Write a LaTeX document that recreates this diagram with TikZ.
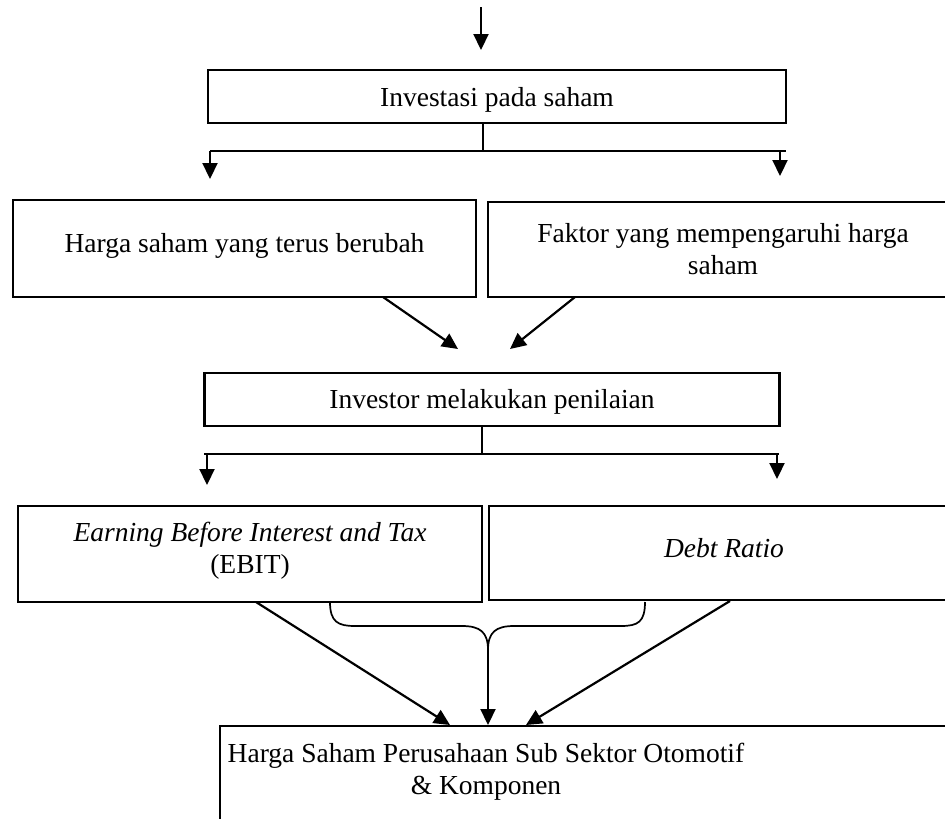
\documentclass[tikz,border=0pt]{standalone}
\usepackage{fontspec}
\setmainfont{Liberation Serif}
\usetikzlibrary{arrows.meta}
\tikzset{
  x=1pt,y=-1pt,
  boxthick/.style={draw,rectangle,line width=2.4pt,inner sep=0pt},
  boxthin/.style={draw,rectangle,line width=1.7pt,inner sep=0pt},
  txt/.style={inner sep=0pt,align=center,anchor=north,font=\fontsize{27.5}{32}\selectfont},
  conn/.style={line width=2.2pt},
  arr/.style={line width=2.2pt,-{Triangle[width=15pt,length=16pt]}},
}
\begin{document}
\begin{tikzpicture}
\useasboundingbox (0,0) rectangle (945,819);
\clip (0,0) rectangle (945,819);
% boxes
\node[boxthick,minimum width=578pt,minimum height=53pt] (b1) at (497,96.5) {};
\node[boxthin,minimum width=463pt,minimum height=97pt] (b2) at (244.5,248.5) {};
\node[boxthin,minimum width=472pt,minimum height=95pt] (b3) at (724,249.5) {};
\node[boxthick,minimum width=575pt,minimum height=53pt] (b4) at (492,399.5) {};
\node[boxthin,minimum width=464pt,minimum height=96pt] (b5) at (250,554) {};
\node[boxthin,minimum width=471pt,minimum height=94pt] (b6) at (724.5,553) {};
\node[boxthin,minimum width=780pt,minimum height=124pt] (b7) at (610,788) {};
% texts
\node[txt] (t1) at (497,83.6) {\strut Investasi pada saham};
\node[txt] (t2) at (244.5,229.6) {\strut Harga saham yang terus berubah};
\node[txt] (t3) at (723,219.6) {\strut Faktor yang mempengaruhi harga\\\strut saham};
\node[txt] (t4) at (492,385.6) {\strut Investor melakukan penilaian};
\node[txt] (t5) at (250,518.6) {\strut\textit{Earning Before Interest and Tax}\\\strut (EBIT)};
\node[txt] (t6) at (724,534.6) {\strut\textit{Debt Ratio}};
\node[txt] (t7) at (486,739.6) {\strut Harga Saham Perusahaan Sub Sektor Otomotif\\\strut \& Komponen};
% coordinates
\coordinate (top) at (481,7);
\coordinate (topend) at (481,50);
\coordinate (s1) at (483,151);
\coordinate (s1l) at (210,151);
\coordinate (s1r) at (786,151);
\coordinate (s1ra) at (780,151);
\coordinate (a1l) at (210,179);
\coordinate (a1r) at (780,176);
\coordinate (d1s) at (383,297);
\coordinate (d1e) at (458,349);
\coordinate (d2s) at (575,297);
\coordinate (d2e) at (510,349);
\coordinate (s2) at (482,454);
\coordinate (s2l) at (204,454);
\coordinate (s2la) at (207,454);
\coordinate (s2r) at (779,454);
\coordinate (s2ra) at (777,454);
\coordinate (a2l) at (207,485);
\coordinate (a2r) at (777,479);
\coordinate (bl) at (330,602);
\coordinate (br) at (645,602);
\coordinate (cusp) at (488,650);
\coordinate (e1s) at (256,602);
\coordinate (e1e) at (450,725);
\coordinate (e2e) at (488,725);
\coordinate (e3s) at (730,601);
\coordinate (e3e) at (526,725);
% connectors
\draw[arr] (top) -- (topend);
\draw[conn] (b1.south -| s1) -- (s1);
\draw[conn] (s1l) -- (s1r);
\draw[arr] (s1l) -- (a1l);
\draw[arr] (s1ra) -- (a1r);
\draw[arr] (d1s) -- (d1e);
\draw[arr] (d2s) -- (d2e);
\draw[conn] (b4.south -| s2) -- (s2);
\draw[conn] (s2l) -- (s2r);
\draw[arr] (s2la) -- (a2l);
\draw[arr] (s2ra) -- (a2r);
\draw[line width=1.7pt] (bl) .. controls (330,622) and (338,626) .. (355,626) -- (462,626)
  .. controls (480,626) and (488,632) .. (cusp)
  .. controls (488,632) and (496,626) .. (514,626) -- (621,626)
  .. controls (638,626) and (645,622) .. (br);
\draw[arr] (cusp) -- (e2e);
\draw[arr] (e1s) -- (e1e);
\draw[arr] (e3s) -- (e3e);
\end{tikzpicture}
\end{document}
